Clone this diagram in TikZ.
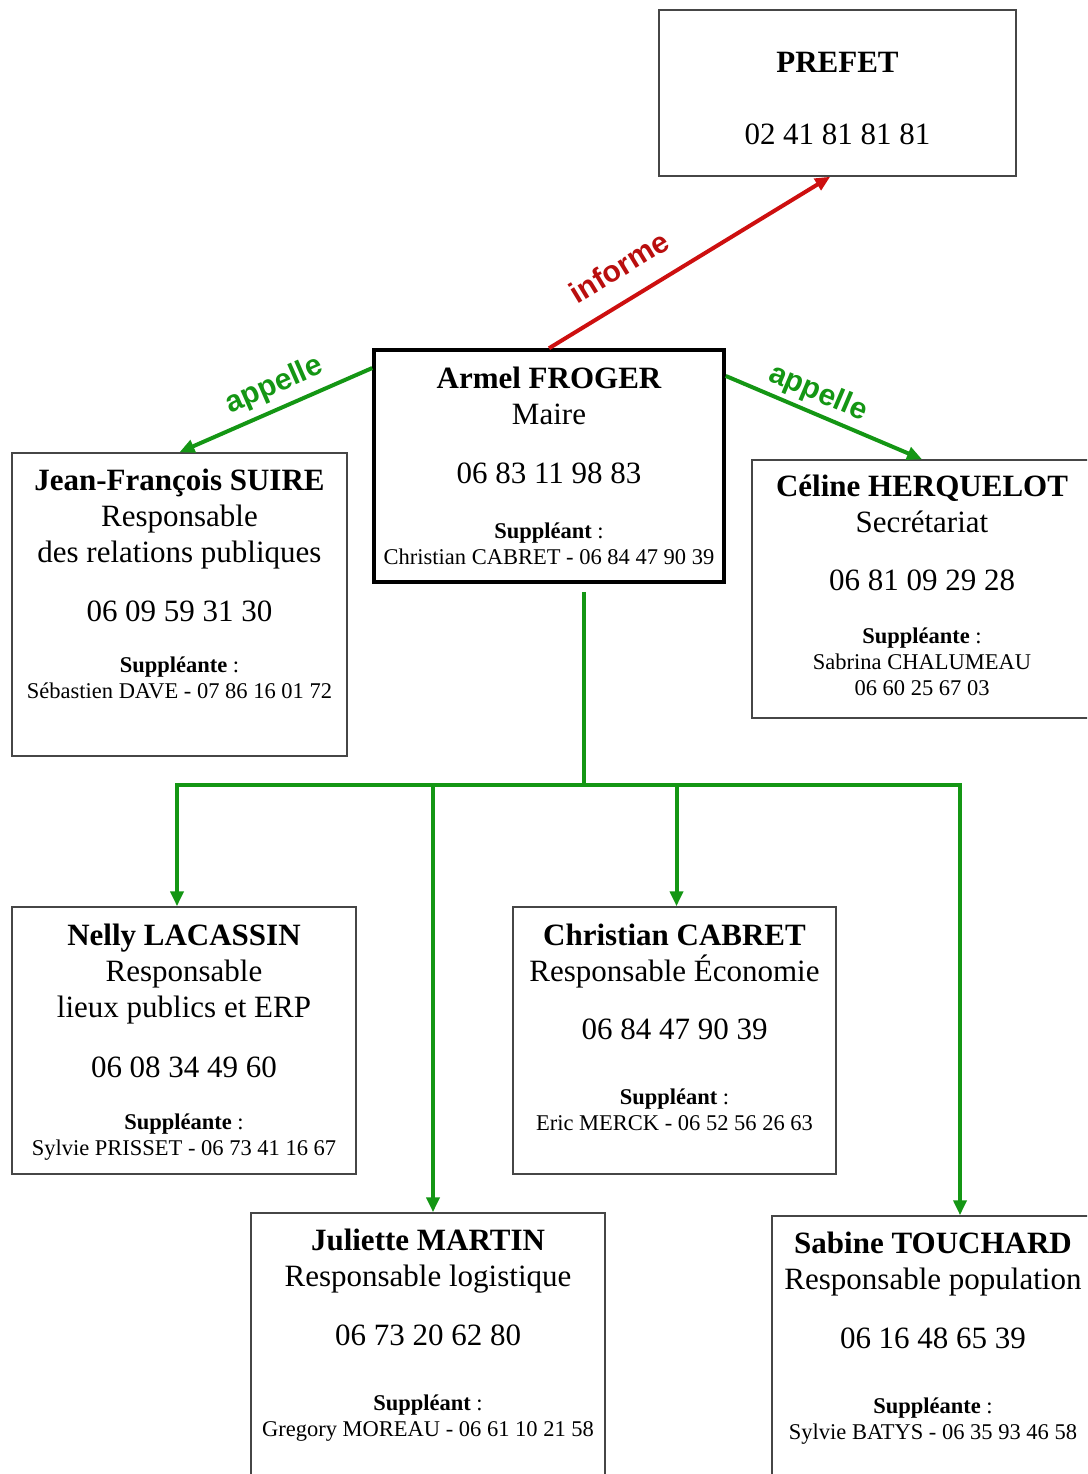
\documentclass[tikz,border=0pt]{standalone}
\usepackage{fontspec}
\setmainfont{Liberation Serif}
\newfontfamily\etiquette{Liberation Sans}
\usetikzlibrary{arrows.meta}
\definecolor{vert}{RGB}{20,150,20}
\definecolor{rouge}{RGB}{205,15,15}
\definecolor{cadre}{RGB}{70,70,70}
\newcommand\grand{\fontsize{31}{36}\selectfont}
\newcommand\petit{\fontsize{22.5}{26}\selectfont}
\tikzset{
    fiche/.style ={
        draw=cadre,
        line width=1.5pt,
        inner sep=0pt,
        anchor=base,
        align=flush center,
        font=\grand
    },
    chef/.style ={
        fiche,
        draw=black,
        line width=3.5pt
    },
    lien/.style ={
        draw=vert,
        line width=4pt,
        -{Triangle[length=15pt,width=13pt]}
    },
    appel/.style ={
        sloped,
        inner sep=2pt,
        text=vert,
        font=\etiquette\bfseries\fontsize{30}{36}\selectfont
    }
}

\begin{document}
\begin{tikzpicture}[x=1pt,y=-1pt]
    \useasboundingbox (0,0) rectangle (1087,1474);
    \clip (0,0) rectangle (1087,1474);
    \node[fiche, text width=357pt, text height=63pt, text depth=103pt] (prefet) at (837.5,73) {
        {\bfseries PREFET\par}
        \vspace{36pt}{02 41 81 81 81\par}};
    \node[chef, text width=350pt, text height=38pt, text depth=194pt] (maire) at (549,388) {
        {\bfseries Armel FROGER\par}
        {Maire\par}
        \vspace{23pt}{06 83 11 98 83\par}
        \vspace{29pt}{\petit\textbf{Suppléant} :\par}
        {\petit Christian CABRET - 06 84 47 90 39\par}};
    \node[fiche, text width=335pt, text height=37pt, text depth=266pt] (suire) at (179.5,490) {
        {\bfseries Jean-François SUIRE\par}
        {Responsable\par}
        {des relations publiques\par}
        \vspace{23pt}{06 09 59 31 30\par}
        \vspace{25pt}{\petit\textbf{Suppléante} :\par}
        {\petit Sébastien DAVE - 07 86 16 01 72\par}};
    \node[fiche, text width=340pt, text height=36pt, text depth=222pt] (herquelot) at (922,496) {
        {\bfseries Céline HERQUELOT\par}
        {Secrétariat\par}
        \vspace{22pt}{06 81 09 29 28\par}
        \vspace{27pt}{\petit\textbf{Suppléante} :\par}
        {\petit Sabrina CHALUMEAU\par}
        {\petit 06 60 25 67 03\par}};
    \node[fiche, text width=344pt, text height=38pt, text depth=229pt] (lacassin) at (184,945) {
        {\bfseries Nelly LACASSIN\par}
        {Responsable\par}
        {lieux publics et ERP\par}
        \vspace{24pt}{06 08 34 49 60\par}
        \vspace{26pt}{\petit\textbf{Suppléante} :\par}
        {\petit Sylvie PRISSET - 06 73 41 16 67\par}};
    \node[fiche, text width=323pt, text height=38pt, text depth=229pt] (cabret) at (674.5,945) {
        {\bfseries Christian CABRET\par}
        {Responsable Économie\par}
        \vspace{22pt}{06 84 47 90 39\par}
        \vspace{39pt}{\petit\textbf{Suppléant} :\par}
        {\petit Eric MERCK - 06 52 56 26 63\par}};
    \node[fiche, text width=354pt, text height=37pt, text depth=300pt] (martin) at (428,1250) {
        {\bfseries Juliette MARTIN\par}
        {Responsable logistique\par}
        \vspace{23pt}{06 73 20 62 80\par}
        \vspace{39pt}{\petit\textbf{Suppléant} :\par}
        {\petit Gregory MOREAU - 06 61 10 21 58\par}};
    \node[fiche, text width=322pt, text height=37pt, text depth=300pt] (touchard) at (933,1253) {
        {\bfseries Sabine TOUCHARD\par}
        {Responsable population\par}
        \vspace{23pt}{06 16 48 65 39\par}
        \vspace{39pt}{\petit\textbf{Suppléante} :\par}
        {\petit Sylvie BATYS - 06 35 93 46 58\par}};
    % liens du maire
    \draw[lien, draw=rouge] (maire.north) -- node[appel, above=18pt, pos=0.31, text=rouge!90!black] {informe} (prefet.265);
    \draw[lien] (maire.151) -- node[appel, above=5pt, pos=0.46] {appelle} (suire.north);
    \draw[lien] (maire.27) -- node[appel, above=2pt, pos=0.43] {appelle} (herquelot.north);
    % arbre des responsables
    \coordinate (noeud) at (584,785);
    \draw[lien, -, shorten <=8pt] (maire.south -| noeud) -- (noeud);
    \draw[lien] (noeud) -| ([xshift=-7pt]lacassin.north);
    \draw[lien] (noeud) -| ([xshift=5pt]martin.north);
    \draw[lien] (noeud) -| ([xshift=2pt]cabret.north);
    \draw[lien] (noeud) -| ([xshift=27pt]touchard.north);
\end{tikzpicture}
\end{document}
